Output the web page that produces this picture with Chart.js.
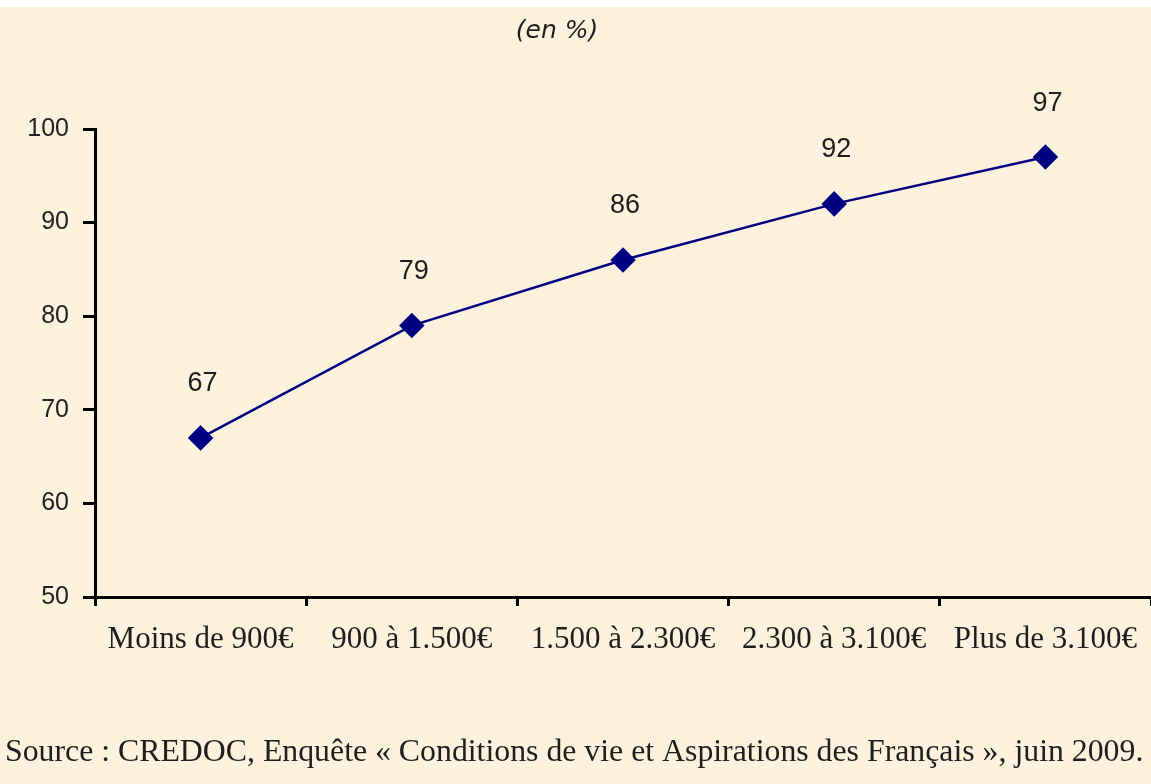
<!DOCTYPE html>
<html>
<head>
<meta charset="utf-8">
<script src="https://cdn.jsdelivr.net/npm/chart.js@4"></script>
<style>
  html, body { margin: 0; padding: 0; background: #fbf1dc; }
  #wrap { width: 1151px; height: 784px; position: relative; }
</style>
</head>
<body>
<div id="wrap"><canvas id="chart" width="1151" height="784"></canvas></div>
<script>
const categories = ['Moins de 900€', '900 à 1.500€', '1.500 à 2.300€', '2.300 à 3.100€', 'Plus de 3.100€'];
const values = [67, 79, 86, 92, 97];
const yTicks = [50, 60, 70, 80, 90, 100];
const titleText = '(en %)';
const sourceText = 'Source : CREDOC, Enquête « Conditions de vie et Aspirations des Français », juin 2009.';

const navy = '#000080';

// fond beige, titre, étiquettes et source
const decor = {
  id: 'decor',
  beforeDraw(chart) {
    const { ctx, width, height } = chart;
    ctx.save();
    ctx.fillStyle = '#fbf1dc';
    ctx.fillRect(0, 0, width, height);
    ctx.fillStyle = '#ffffff';
    ctx.fillRect(0, 0, width, 7);
    ctx.restore();
  },
  afterDatasetsDraw(chart) {
    const { ctx } = chart;
    const meta = chart.getDatasetMeta(0);
    ctx.save();
    ctx.fillStyle = '#1e1e1e';
    ctx.font = '27px "Liberation Sans"';
    ctx.textAlign = 'center';
    ctx.textBaseline = 'middle';
    meta.data.forEach((pt, i) => {
      ctx.fillText(String(values[i]), pt.x + 2, pt.y - 54);
    });
    ctx.font = 'italic 25px "DejaVu Sans"';
    ctx.fillText(titleText, 557, 31);
    ctx.font = '31.8px "Liberation Serif"';
    ctx.textAlign = 'left';
    ctx.fillText(sourceText, 5, 753);
    ctx.restore();
  },
};

new Chart(document.getElementById('chart'), {
  type: 'line',
  data: {
    labels: categories,
    datasets: [
      {
        data: values,
        borderColor: navy,
        backgroundColor: navy,
        borderWidth: 2.5,
        pointStyle: 'rectRot',
        pointRadius: 11,
        pointHoverRadius: 11,
        tension: 0,
      },
    ],
  },
  options: {
    responsive: false,
    animation: false,
    layout: { autoPadding: false, padding: { top: 129, right: 0, bottom: 127, left: 0 } },
    plugins: {
      legend: { display: false },
      tooltip: { enabled: false },
    },
    scales: {
      x: {
        offset: true,
        grid: {
          offset: true,
          drawOnChartArea: false,
          drawTicks: true,
          tickLength: 9,
          tickWidth: 3,
          tickColor: '#000',
        },
        border: { color: '#000', width: 3 },
        ticks: {
          color: '#1e1e1e',
          font: { family: 'Liberation Serif', size: 31 },
          padding: 15,
          maxRotation: 0,
          autoSkip: false,
        },
        afterFit: (scale) => {
          scale.height = 60;
          scale.paddingLeft = 0;
          scale.paddingRight = 0;
        },
      },
      y: {
        min: 50,
        max: 100,
        afterBuildTicks: (scale) => { scale.ticks = yTicks.map((v) => ({ value: v })); },
        grid: {
          drawOnChartArea: false,
          drawTicks: true,
          tickLength: 12,
          tickWidth: 3,
          tickColor: '#000',
        },
        border: { color: '#000', width: 3 },
        ticks: {
          color: '#222',
          font: { family: 'Liberation Sans', size: 25 },
          padding: 14,
        },
        afterFit: (scale) => {
          scale.width = 95;
          scale.paddingTop = 0;
          scale.paddingBottom = 0;
        },
      },
    },
  },
  plugins: [decor],
});
</script>
</body>
</html>
